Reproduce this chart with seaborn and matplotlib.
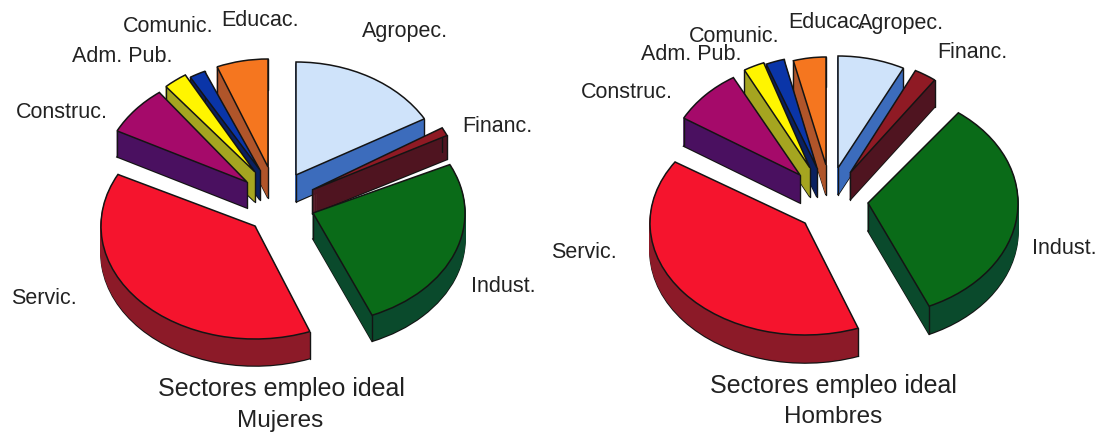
import matplotlib
matplotlib.use("Agg")
import matplotlib.pyplot as plt
import numpy as np
import seaborn as sns

sectors = ["Agropec.", "Financ.", "Indust.", "Servic.", "Construc.", "Adm. Pub.", "Comunic.", "Educac."]
mujeres = [16.7, 1.1, 25.8, 38.3, 7.2, 2.8, 1.9, 6.1]
hombres = [7.5, 2.5, 33.0, 39.7, 8.3, 2.5, 2.2, 4.2]
title_main = "Sectores empleo ideal"
titles = ["Mujeres", "Hombres"]

top_colors = ["#cfe3fa", "#8f1a24", "#0a6b18", "#f5142d", "#a50a6a", "#fff500", "#0a35a8", "#f5761f"]
side_colors = ["#3c6cbc", "#4f1420", "#0a4a2c", "#8c1a28", "#4a1060", "#a5a520", "#0a2060", "#b0552a"]

# pixel geometry of each exploded slice: apex x, apex y, radius x, radius y, depth, rotation
left_geo = [
    (296, 175, 148, 113, 27, 0), (312, 190, 150, 125, 24, 0), (313, 213, 152, 111, 26, 0),
    (255, 226, 154, 113, 27, -2), (247, 182, 146, 112, 26, -2), (255, 172, 136, 113, 30, 2),
    (260, 170, 136, 108, 30, 2), (268, 167, 136, 108, 31, 0),
]
right_geo = [
    (838, 168, 144, 112, 27, 0), (850, 173, 144, 115, 27, 0), (868, 203, 150, 113, 28, -1),
    (805, 223, 155, 112, 28, -5), (800, 175, 135, 112, 28, -2.5), (810, 168, 135, 112, 29, -3),
    (817, 168, 135, 112, 29, -1), (826, 165, 125, 108, 30, 0),
]
draw_order = [7, 6, 5, 0, 4, 1, 2, 3]

W, H = 1095, 434
sns.set_theme(style="white")
plt.rcParams["font.family"] = ["Liberation Sans", "DejaVu Sans"]
fig = plt.figure(figsize=(W / 100, H / 100), dpi=100, facecolor="white")
EDGE = "#141414"


def one_layer(ax, values, i, color, off, start, lw, ec):
    patches, _ = ax.pie(values, colors=[color] * len(values), center=(0, -off), startangle=start,
                        counterclock=False, wedgeprops=dict(edgecolor=ec, linewidth=lw))
    for j, p in enumerate(patches):
        p.set_visible(j == i)
    return patches[i]


def pie3d(values, geometry):
    tops = sns.color_palette(top_colors)
    sides = sns.color_palette(side_colors)
    for i in draw_order:
        cx, cy, rx, ry, depth, rot = geometry[i]
        ax = fig.add_axes([(cx - 1.5 * rx) / W, 1 - (cy + 1.5 * ry) / H, 3 * rx / W, 3 * ry / H])
        d = depth / ry
        start = 90 + rot
        one_layer(ax, values, i, sides[i], d, start, 1.2, EDGE)
        for off in np.linspace(d, 0, int(depth) + 1)[1:-1]:
            one_layer(ax, values, i, sides[i], off, start, 0.8, sides[i])
        w = one_layer(ax, values, i, tops[i], 0, start, 1.1, EDGE)
        # vertical wall edges, taken from the slice the pie call produced
        corners = [(0.0, 0.0)] + [(np.cos(np.radians(t)), np.sin(np.radians(t))) for t in (w.theta1, w.theta2)]
        for x, y in corners:
            ax.plot([x, x], [y, y - d], color=EDGE, lw=1.0, zorder=1.5)
        w.set_zorder(2)
        ax.set_aspect("auto")
        ax.set_xlim(-1.5, 1.5)
        ax.set_ylim(-1.5, 1.5)
        ax.patch.set_alpha(0)
        ax.set_axis_off()


pie3d(mujeres, left_geo)
pie3d(hombres, right_geo)


def label(x, y, s, size=15.5, ha="left"):
    fig.text(x / W, 1 - y / H, s, fontsize=size, ha=ha, va="center", color="#222222")


left_xy = [(362, 31), (462, 126), (471, 286), (11, 298), (16, 113), (72, 57), (123, 26), (221, 20)]
right_xy = [(858, 24), (937, 53), (1032, 248), (551, 252), (581, 92), (641, 54), (689, 36), (788, 23)]
for s, (x, y) in zip(sectors, left_xy):
    label(x, y, s)
for s, (x, y) in zip(sectors, right_xy):
    label(x, y, s)
label(281, 389, title_main, 18, "center")
label(280, 421, titles[0], 17.5, "center")
label(833, 386, title_main, 18, "center")
label(833, 417, titles[1], 17.5, "center")

fig.savefig("out.png", dpi=100)
